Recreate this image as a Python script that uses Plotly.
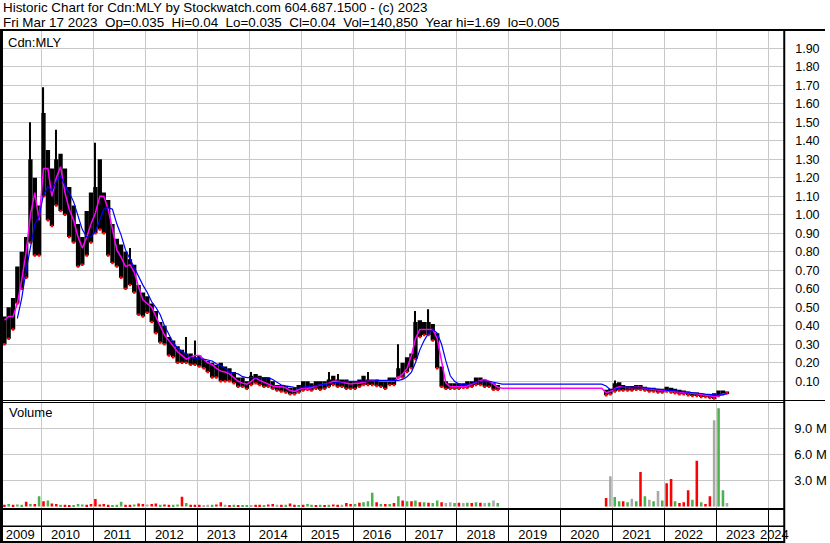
import plotly.graph_objects as go
import pandas as pd

W, H = 830, 543
def px(x):
    return x / W
def py(y):
    return 1 - y / H

FONT = "Liberation Sans, Arial, sans-serif"
GRID = "#c8c8c8"

# ---------------- data (monthly readings, Apr 2009 .. Mar 2023) ----------------
first_month = "2009-04-01"
last_month = "2023-03-01"

# trading period 1: Apr 2009 .. Oct 2018 (115 months) - body of the daily range
high_a = [0.45, 0.50, 0.55, 0.72, 0.80, 0.88, 1.30, 1.20, 1.05, 1.55,
          1.35, 1.25, 1.30, 1.33, 1.25, 1.15, 1.05, 0.95, 0.88, 1.02,
          1.12, 1.15, 1.30, 1.12, 1.08, 0.95, 0.87, 0.84, 0.80, 0.76,
          0.73, 0.62, 0.58, 0.56, 0.52, 0.48, 0.42, 0.40, 0.34, 0.32,
          0.29, 0.27, 0.25, 0.25, 0.23, 0.24, 0.22, 0.21, 0.20, 0.19,
          0.20, 0.18, 0.17, 0.15, 0.12, 0.12, 0.10, 0.13, 0.14, 0.13,
          0.12, 0.12, 0.10, 0.08, 0.08, 0.075, 0.065, 0.065, 0.08, 0.10,
          0.10, 0.09, 0.10, 0.10, 0.10, 0.11, 0.13, 0.11, 0.11, 0.11,
          0.10, 0.10, 0.11, 0.13, 0.11, 0.11, 0.11, 0.10, 0.10, 0.12,
          0.12, 0.17, 0.20, 0.23, 0.25, 0.42, 0.43, 0.42, 0.42, 0.41,
          0.36, 0.18, 0.10, 0.09, 0.09, 0.09, 0.09, 0.10, 0.10, 0.12,
          0.12, 0.11, 0.10, 0.09, 0.08]
low_a = [0.30, 0.33, 0.38, 0.52, 0.60, 0.66, 0.85, 0.78, 0.78, 1.10,
         0.97, 0.94, 1.05, 1.02, 1.00, 0.88, 0.85, 0.72, 0.73, 0.78,
         0.85, 0.90, 0.92, 0.90, 0.78, 0.74, 0.72, 0.66, 0.60, 0.62,
         0.58, 0.46, 0.45, 0.47, 0.42, 0.36, 0.31, 0.30, 0.24, 0.23,
         0.20, 0.20, 0.20, 0.19, 0.19, 0.18, 0.17, 0.15, 0.12, 0.12,
         0.10, 0.10, 0.10, 0.09, 0.07, 0.07, 0.06, 0.08, 0.09, 0.08,
         0.07, 0.07, 0.06, 0.05, 0.045, 0.04, 0.03, 0.03, 0.04, 0.05,
         0.055, 0.05, 0.06, 0.055, 0.06, 0.07, 0.08, 0.07, 0.07, 0.06,
         0.06, 0.06, 0.07, 0.08, 0.08, 0.08, 0.075, 0.07, 0.06, 0.08,
         0.08, 0.12, 0.12, 0.15, 0.17, 0.22, 0.34, 0.35, 0.35, 0.32,
         0.17, 0.07, 0.06, 0.06, 0.06, 0.06, 0.065, 0.065, 0.07, 0.08,
         0.08, 0.07, 0.07, 0.055, 0.055]

# single-day spikes above the body (month index from Apr 2009, intraday high)
spike_month = [6, 9, 12, 21, 29, 42, 44, 57, 75, 77, 84, 91, 95, 98, 141]
spike_high = [1.50, 1.69, 1.46, 1.39, 0.82, 0.34, 0.32, 0.15, 0.15, 0.14, 0.15, 0.30, 0.48, 0.49, 0.105]

# trading period 2: Nov 2020 .. Mar 2023 (29 months)
high_b = [0.055, 0.06, 0.09, 0.095, 0.08, 0.075, 0.075, 0.08, 0.08, 0.07,
          0.065, 0.065, 0.06, 0.06, 0.07, 0.065, 0.06, 0.055, 0.05, 0.045,
          0.04, 0.04, 0.035, 0.03, 0.03, 0.035, 0.05, 0.05, 0.045]
low_b = [0.025, 0.03, 0.045, 0.05, 0.05, 0.05, 0.05, 0.055, 0.055, 0.05,
         0.045, 0.045, 0.04, 0.04, 0.045, 0.04, 0.035, 0.03, 0.03, 0.025,
         0.02, 0.02, 0.015, 0.015, 0.01, 0.005, 0.02, 0.03, 0.035]

# volume (millions) and bar colour code: r = down, g = up, k = unchanged
vol_a = [0.2, 0.3, 0.2, 0.25, 0.2, 0.55, 0.3, 0.3, 1.2, 0.6,
         0.7, 0.35, 0.3, 0.2, 0.2, 0.15, 0.15, 0.3, 0.25, 0.2,
         0.3, 0.87, 0.25, 0.3, 0.2, 0.15, 0.2, 0.55, 0.2, 0.2,
         0.25, 0.35, 0.3, 0.25, 0.3, 0.35, 0.2, 0.25, 0.2, 0.2,
         0.25, 1.14, 0.4, 0.2, 0.2, 0.2, 0.15, 0.2, 0.2, 0.25,
         0.5, 0.2, 0.15, 0.2, 0.15, 0.15, 0.15, 0.1, 0.2, 0.2,
         0.15, 0.25, 0.3, 0.2, 0.2, 0.2, 0.35, 0.2, 0.15, 0.2,
         0.3, 0.2, 0.15, 0.2, 0.15, 0.2, 0.25, 0.2, 0.2, 0.4,
         0.3, 0.3, 0.45, 0.5, 0.6, 1.6, 0.5, 0.3, 0.3, 0.3,
         0.4, 1.2, 0.7, 0.6, 0.6, 0.7, 0.5, 0.5, 0.45, 0.4,
         0.7, 0.5, 0.4, 0.5, 0.4, 0.45, 0.4, 0.45, 0.4, 0.5,
         0.45, 0.4, 0.45, 0.7, 0.4]
dir_a = ["r", "g", "r", "g", "g", "r", "g", "r", "g", "r",
         "g", "r", "r", "g", "r", "r", "g", "g", "g", "r",
         "r", "r", "r", "r", "r", "g", "g", "g", "r", "r",
         "g", "r", "r", "k", "r", "r", "g", "r", "r", "g",
         "g", "r", "g", "r", "r", "r", "k", "k", "g", "r",
         "r", "k", "r", "g", "r", "g", "g", "k", "r", "r",
         "g", "r", "r", "k", "r", "g", "r", "r", "g", "r",
         "g", "g", "r", "g", "r", "g", "r", "r", "k", "r",
         "r", "g", "r", "g", "g", "g", "r", "g", "r", "g",
         "r", "g", "r", "g", "r", "g", "r", "g", "r", "g",
         "g", "r", "k", "k", "g", "r", "k", "g", "r", "g",
         "r", "k", "g", "k", "g"]
vol_b = [1.0, 3.5, 1.1, 0.6, 0.6, 0.5, 0.9, 0.6, 4.0, 1.2,
         0.8, 0.6, 1.8, 0.7, 2.7, 3.2, 0.6, 0.4, 0.5, 1.9,
         0.8, 5.3, 0.5, 0.3, 1.2, 10.0, 11.4, 1.9, 0.4]
dir_b = ["r", "k", "g", "g", "r", "g", "k", "g", "r", "g",
         "k", "g", "k", "g", "r", "r", "g", "r", "r", "r",
         "g", "r", "g", "r", "r", "k", "g", "g", "k"]

# moving averages (Apr 2009 .. Mar 2023, 168 months)
ma_short = [0.43, 0.45, 0.45, 0.52, 0.65, 0.80, 1.00, 1.12, 0.97, 1.25,
            1.25, 1.10, 1.20, 1.26, 1.12, 1.03, 0.97, 0.88, 0.82, 0.88,
            0.95, 1.01, 1.10, 1.10, 1.03, 0.93, 0.81, 0.77, 0.72, 0.73,
            0.69, 0.61, 0.54, 0.52, 0.50, 0.45, 0.40, 0.35, 0.32, 0.29,
            0.26, 0.24, 0.22, 0.23, 0.24, 0.24, 0.22, 0.20, 0.19, 0.17,
            0.155, 0.15, 0.14, 0.12, 0.10, 0.09, 0.085, 0.10, 0.12, 0.105,
            0.095, 0.085, 0.075, 0.07, 0.07, 0.065, 0.05, 0.045, 0.055, 0.065,
            0.062, 0.065, 0.075, 0.08, 0.083, 0.09, 0.10, 0.10, 0.095, 0.09,
            0.085, 0.09, 0.09, 0.095, 0.10, 0.10, 0.105, 0.10, 0.10, 0.10,
            0.10, 0.12, 0.14, 0.17, 0.24, 0.33, 0.38, 0.38, 0.38, 0.38,
            0.33, 0.20, 0.09, 0.07, 0.07, 0.07, 0.07, 0.075, 0.085, 0.095,
            0.105, 0.11, 0.10, 0.085, 0.068,
            0.062, 0.062, 0.062, 0.062, 0.062, 0.062, 0.062, 0.062, 0.062, 0.062,
            0.062, 0.062, 0.062, 0.062, 0.062, 0.062, 0.062, 0.062, 0.062, 0.062,
            0.062, 0.062, 0.062, 0.062,
            0.038, 0.045, 0.06, 0.07, 0.068, 0.065, 0.065, 0.068, 0.068, 0.062,
            0.058, 0.055, 0.053, 0.052, 0.05, 0.048, 0.046, 0.045, 0.042, 0.04,
            0.036, 0.033, 0.03, 0.027, 0.022, 0.018, 0.022, 0.03, 0.036]
ma_long = [None, None, None, 0.44, 0.55, 0.70, 0.83, 0.95, 0.99, 1.11,
           1.15, 1.13, 1.18, 1.21, 1.16, 1.12, 1.07, 1.00, 0.92, 0.88,
           0.88, 0.91, 0.97, 1.03, 1.04, 1.03, 0.95, 0.89, 0.81, 0.76,
           0.71, 0.66, 0.62, 0.58, 0.53, 0.50, 0.46, 0.40, 0.35, 0.31,
           0.28, 0.26, 0.245, 0.23, 0.225, 0.22, 0.22, 0.215, 0.21, 0.195,
           0.185, 0.17, 0.15, 0.145, 0.14, 0.125, 0.12, 0.12, 0.12, 0.12,
           0.12, 0.12, 0.11, 0.095, 0.08, 0.075, 0.07, 0.067, 0.065, 0.068,
           0.07, 0.073, 0.075, 0.078, 0.08, 0.085, 0.09, 0.095, 0.098, 0.10,
           0.10, 0.10, 0.10, 0.10, 0.10, 0.10, 0.105, 0.105, 0.105, 0.105,
           0.105, 0.105, 0.11, 0.125, 0.15, 0.20, 0.27, 0.32, 0.36, 0.38,
           0.36, 0.30, 0.21, 0.13, 0.10, 0.085, 0.08, 0.082, 0.088, 0.098,
           0.10, 0.10, 0.10, 0.095, 0.088,
           0.085, 0.085, 0.085, 0.085, 0.085, 0.085, 0.085, 0.085, 0.085, 0.085,
           0.085, 0.085, 0.085, 0.085, 0.085, 0.085, 0.085, 0.085, 0.085, 0.085,
           0.085, 0.085, 0.085, 0.085,
           0.075, 0.055, 0.058, 0.065, 0.068, 0.069, 0.069, 0.068, 0.066, 0.064,
           0.061, 0.058, 0.055, 0.053, 0.051, 0.05, 0.048, 0.046, 0.045, 0.043,
           0.04, 0.037, 0.034, 0.031, 0.028, 0.026, 0.025, 0.028, 0.033]

price_ticks = [0.10, 0.20, 0.30, 0.40, 0.50, 0.60, 0.70, 0.80, 0.90, 1.00,
               1.10, 1.20, 1.30, 1.40, 1.50, 1.60, 1.70, 1.80, 1.90]
volume_ticks = [3.0, 6.0, 9.0]
years = list(range(2009, 2025))

title1 = "Historic Chart for Cdn:MLY by Stockwatch.com 604.687.1500 - (c) 2023"
title2 = ("Fri Mar 17 2023\u00a0 Op=0.035\u00a0 Hi=0.04\u00a0 Lo=0.035\u00a0 "
          "Cl=0.04\u00a0 Vol=140,850\u00a0 Year hi=1.69\u00a0 lo=0.005")

# ---------------- build ----------------
months = pd.date_range(first_month, last_month, freq="MS") + pd.Timedelta(days=14)
n_a = len(high_a)
dates_a = months[:n_a]
dates_b = months[len(months) - len(high_b):]
all_low = {}
for d, lo in zip(dates_a, low_a):
    all_low[d] = lo
for d, lo in zip(dates_b, low_b):
    all_low[d] = lo
spike_dates = [months[i] for i in spike_month]
spike_base = [all_low[d] for d in spike_dates]

DAY = 86400000
VCOL = {"r": "#ff0000", "g": "#4cb04c", "k": "#a8a8a8"}

x_start = pd.Timestamp("2009-04-05")
x_end = pd.Timestamp("2024-04-21")

fig = go.Figure()
fig.add_trace(go.Bar(x=spike_dates, y=[h - b for h, b in zip(spike_high, spike_base)], base=spike_base,
                     width=8 * DAY, marker=dict(color="black", line=dict(width=0)),
                     xaxis="x", yaxis="y", hoverinfo="skip"))
for d, hi, lo in ((dates_a, high_a, low_a), (dates_b, high_b, low_b)):
    fig.add_trace(go.Bar(x=d, y=[h - l for h, l in zip(hi, lo)], base=lo,
                         width=30.4 * DAY, marker=dict(color="black", line=dict(width=0)),
                         xaxis="x", yaxis="y", hoverinfo="skip"))
    fig.add_trace(go.Scatter(x=d, y=lo, mode="markers",
                             marker=dict(symbol="square", size=2.5, color="#ff0000", line=dict(width=0)),
                             xaxis="x", yaxis="y", hoverinfo="skip"))
fig.add_trace(go.Scatter(x=months, y=ma_short, mode="lines", line=dict(color="#ff00ff", width=1.5),
                         xaxis="x", yaxis="y", connectgaps=False, hoverinfo="skip"))
fig.add_trace(go.Scatter(x=months, y=ma_long, mode="lines", line=dict(color="#0000ff", width=1.2),
                         xaxis="x", yaxis="y", connectgaps=False, hoverinfo="skip"))

for d, v, c in ((dates_a, vol_a, dir_a), (dates_b, vol_b, dir_b)):
    fig.add_trace(go.Bar(x=d, y=v, width=18 * DAY,
                         marker=dict(color=[VCOL[k] for k in c], line=dict(width=0)),
                         xaxis="x2", yaxis="y2", hoverinfo="skip"))

# year boundaries and label positions for the date strip
jan1 = [pd.Timestamp(f"{y}-01-01") for y in years if x_start < pd.Timestamp(f"{y}-01-01") < x_end]
label_pos, label_txt = [], []
for y in years:
    s = max(pd.Timestamp(f"{y}-01-01"), x_start)
    e = min(pd.Timestamp(f"{y + 1}-01-01"), x_end)
    if e > s:
        label_pos.append(s + (e - s) / 2 - pd.Timedelta(days=14))
        label_txt.append(str(y))

# invisible trace so the date-strip axis exists
fig.add_trace(go.Scatter(x=[x_start], y=[0.5], mode="markers", marker=dict(opacity=0),
                         xaxis="x3", yaxis="y3", hoverinfo="skip"))

dom_x = [px(3), px(789)]
p0, p1 = 399.8, 31
price_top = (p0 - p1) / 185.0
v0, v1 = 508, 403
axis_common = dict(type="date", domain=dom_x, range=[x_start, x_end], showline=False,
                   zeroline=False, ticks="", showticklabels=False)

fig.update_layout(
    width=W, height=H, margin=dict(l=0, r=0, t=0, b=0, pad=0), autosize=False,
    paper_bgcolor="white", plot_bgcolor="white", showlegend=False, barmode="overlay",
    font=dict(family=FONT, color="black", size=12),
    xaxis=dict(axis_common, anchor="y", showgrid=True, gridcolor=GRID, gridwidth=1,
               dtick="M12", tick0="2010-01-01"),
    xaxis2=dict(axis_common, anchor="y2", matches="x", showgrid=True, gridcolor=GRID, gridwidth=1,
                dtick="M12", tick0="2010-01-01"),
    xaxis3=dict(type="date", domain=dom_x, range=[x_start, x_end], anchor="y3", matches="x",
                showline=False, zeroline=False, showgrid=False, ticks="",
                tickmode="array", tickvals=label_pos, ticktext=label_txt,
                ticklabelposition="inside", ticklabeloverflow="allow", ticklabelstandoff=-3,
                tickfont=dict(family=FONT, size=13, color="black"),
                minor=dict(tickmode="array", tickvals=jan1, showgrid=True, gridcolor="black",
                           gridwidth=1, ticks="")),
    yaxis=dict(domain=[py(p0), py(p1)], range=[0, price_top], anchor="x", side="right",
               tickmode="array", tickvals=price_ticks, ticktext=[f"{v:.2f}" for v in price_ticks],
               showgrid=True, gridcolor=GRID, gridwidth=1, zeroline=False, showline=False,
               ticks="", ticklabelstandoff=10, tickfont=dict(family=FONT, size=12.5, color="black")),
    yaxis2=dict(domain=[py(v0), py(v1)], range=[-0.17, 12.0], anchor="x2", side="right",
                tickmode="array", tickvals=volume_ticks, ticktext=[f"{v:.1f} M" for v in volume_ticks],
                showgrid=True, gridcolor=GRID, gridwidth=1, zeroline=False, showline=False,
                ticks="", ticklabelstandoff=9, tickfont=dict(family=FONT, size=13, color="black")),
    yaxis3=dict(domain=[py(541.5), py(509)], range=[0, 1], anchor="x3", visible=False),
)

def hline(y, x0, x1, w):
    return dict(type="line", xref="paper", yref="paper", x0=px(x0), x1=px(x1), y0=py(y), y1=py(y),
                line=dict(color="black", width=w), layer="above")

def vline(x, y0, y1, w):
    return dict(type="line", xref="paper", yref="paper", x0=px(x), x1=px(x), y0=py(y0), y1=py(y1),
                line=dict(color="black", width=w), layer="above")

shapes = [
    hline(30, 0, W, 2),
    dict(type="rect", xref="paper", yref="paper", x0=0, x1=px(3), y0=py(543), y1=py(29),
         fillcolor="black", line=dict(width=0), layer="above"),
    vline(789, 29, 543, 2),
    hline(400.5, 0, W, 1),
    hline(402.5, 0, 789, 1),
    hline(509, 0, 789, 2),
    hline(526.3, 0, 789, 1.5),
    hline(542, 0, 789, 2),
]

annotations = [
    dict(text=title1, x=px(1), y=py(8), xref="paper", yref="paper", xanchor="left", yanchor="middle",
         showarrow=False, font=dict(family=FONT, size=13.4, color="black")),
    dict(text=title2, x=px(1), y=py(22), xref="paper", yref="paper", xanchor="left", yanchor="middle",
         showarrow=False, font=dict(family=FONT, size=13.4, color="black")),
    dict(text="Cdn:MLY", x=px(6), y=py(42.5), xref="paper", yref="paper", xanchor="left", yanchor="middle",
         showarrow=False, font=dict(family=FONT, size=13, color="black")),
    dict(text="Volume", x=px(7), y=py(413), xref="paper", yref="paper", xanchor="left", yanchor="middle",
         showarrow=False, font=dict(family=FONT, size=13, color="black")),
]
fig.update_layout(shapes=shapes, annotations=annotations)

fig.write_html("out.html", config={"displayModeBar": False},
               post_script="document.body.style.margin='0';document.body.style.overflow='hidden';")
